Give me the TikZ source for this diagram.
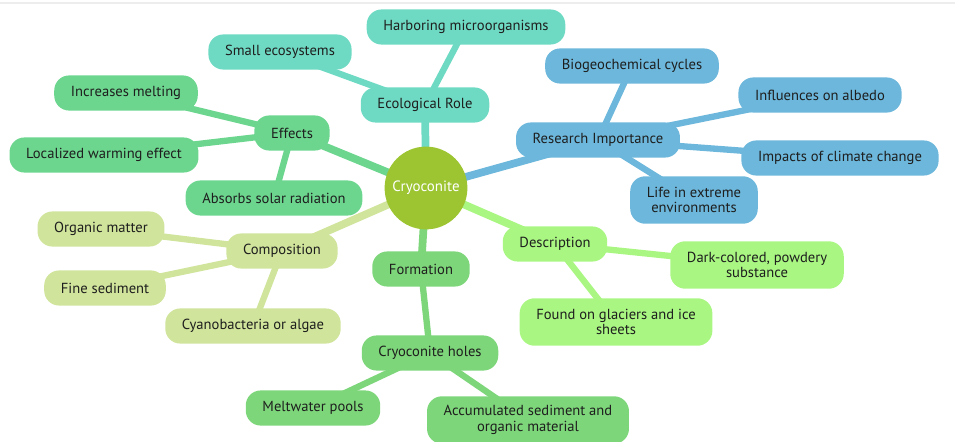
\documentclass[tikz,border=0pt]{standalone}
\usepackage{fontspec}
\setmainfont{PT Sans}
\usetikzlibrary{backgrounds}
% branch colours
\definecolor{rootcol}{HTML}{9CC531}
\definecolor{ecocol}{HTML}{6FDAC3}
\definecolor{effcol}{HTML}{6CD68F}
\definecolor{compcol}{HTML}{D0E49B}
\definecolor{formcol}{HTML}{7ED67A}
\definecolor{desccol}{HTML}{A9F682}
\definecolor{rescol}{HTML}{6CB7DB}
\definecolor{textcol}{HTML}{1E1E1E}
\tikzset{
  topic/.style={rounded corners=8.5pt, inner xsep=9.5pt, minimum height=20pt,
    align=center, text=textcol, font=\fontsize{8.3}{9}\selectfont},
  twoline/.style={topic, minimum height=27pt},
  link/.style={line width=4.4pt, line cap=round},
  leaflink/.style={line width=3.6pt, line cap=round}
}
\begin{document}
\begin{tikzpicture}[x=0.02cm, y=-0.02cm]
  \useasboundingbox (0,0) rectangle (955,442);
  \draw[black!7, line width=1.2pt] (0,3) -- (955,3);
  % centre
  \node[circle, fill=rootcol, minimum size=46pt, text=white,
    font=\fontsize{8.5}{9}\selectfont] (root) at (426,188) {Cryoconite};
  % ecological role
  \node[topic, fill=ecocol] (eco) at (425,105) {Ecological Role};
  \node[topic, fill=ecocol] (harb) at (466,27) {Harboring microorganisms};
  \node[topic, fill=ecocol] (small) at (280,52) {Small ecosystems};
  % effects
  \node[topic, fill=effcol] (eff) at (292,133) {Effects};
  \node[topic, fill=effcol] (melt) at (126,93) {Increases melting};
  \node[topic, fill=effcol] (warm) at (104,155) {Localized warming effect};
  \node[topic, fill=effcol] (solar) at (274,198) {Absorbs solar radiation};
  % composition
  \node[topic, fill=compcol] (comp) at (282,251) {Composition};
  \node[topic, fill=compcol] (organic) at (101,229) {Organic matter};
  \node[topic, fill=compcol] (fine) at (105,288) {Fine sediment};
  \node[topic, fill=compcol] (cyano) at (253,326) {Cyanobacteria or algae};
  % formation
  \node[topic, fill=formcol] (form) at (421,269) {Formation};
  \node[topic, fill=formcol] (holes) at (430,353) {Cryoconite holes};
  \node[topic, fill=formcol] (pools) at (313,408) {Meltwater pools};
  \node[twoline, fill=formcol] (accum) at (528,420) {Accumulated sediment and\\organic material};
  % description
  \node[topic, fill=desccol] (desc) at (555,244) {Description};
  \node[twoline, fill=desccol] (dark) at (757,265) {Dark-colored, powdery\\substance};
  \node[twoline, fill=desccol] (found) at (616,322) {Found on glaciers and ice\\sheets};
  % research importance
  \node[topic, fill=rescol] (res) at (598,140) {Research Importance};
  \node[topic, fill=rescol] (bio) at (632,66) {Biogeochemical cycles};
  \node[topic, fill=rescol] (albedo) at (820,95) {Influences on albedo};
  \node[topic, fill=rescol] (climate) at (840,158) {Impacts of climate change};
  \node[twoline, fill=rescol] (life) at (694,200) {Life in extreme\\environments};
  % connectors
  \begin{pgfonlayer}{background}
    \draw[link, ecocol] (root.center) -- (eco.center);
    \draw[leaflink, ecocol] (eco.center) -- (harb.center);
    \draw[leaflink, ecocol] (eco.center) -- (small.center);
    \draw[link, effcol] (root.center) -- (eff.center);
    \draw[leaflink, effcol] (eff.center) -- (melt.center);
    \draw[leaflink, effcol] (eff.center) -- (warm.center);
    \draw[leaflink, effcol] (eff.center) -- (solar.center);
    \draw[link, compcol] (root.center) -- (comp.center);
    \draw[leaflink, compcol] (comp.center) -- (organic.center);
    \draw[leaflink, compcol] (comp.center) -- (fine.center);
    \draw[leaflink, compcol] (comp.center) -- (cyano.center);
    \draw[link, formcol] (root.center) -- (form.center);
    \draw[leaflink, formcol] (form.center) -- (holes.center);
    \draw[leaflink, formcol] (holes.center) -- (pools.center);
    \draw[leaflink, formcol] (holes.center) -- (accum.center);
    \draw[link, desccol] (root.center) -- (desc.center);
    \draw[leaflink, desccol] (desc.center) -- (dark.center);
    \draw[leaflink, desccol] (desc.center) -- (found.center);
    \draw[link, rescol] (root.center) -- (res.center);
    \draw[leaflink, rescol] (res.center) -- (bio.center);
    \draw[leaflink, rescol] (res.center) -- (albedo.center);
    \draw[leaflink, rescol] (res.center) -- (climate.center);
    \draw[leaflink, rescol] (res.center) -- (life.center);
  \end{pgfonlayer}
\end{tikzpicture}
\end{document}
